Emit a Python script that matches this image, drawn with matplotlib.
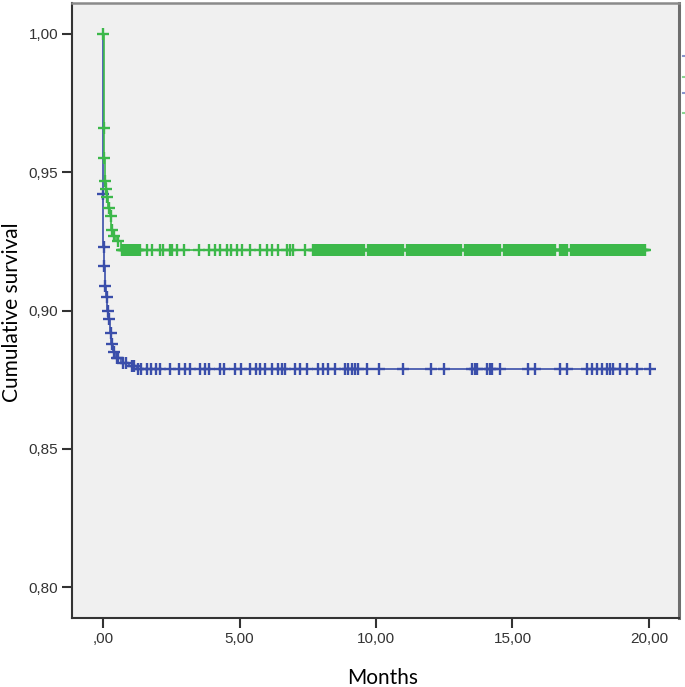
import matplotlib
matplotlib.use("Agg")
import matplotlib.pyplot as plt
from matplotlib.lines import Line2D
import numpy as np

plt.rcParams["font.family"] = ["Liberation Sans", "DejaVu Sans"]

# Kaplan-Meier steps (time in months, survival after each drop)
green_time = [0.00, 0.02, 0.04, 0.06, 0.10, 0.14, 0.19, 0.25, 0.31, 0.37, 0.48, 0.65]
green_surv = [1.000, 0.966, 0.955, 0.947, 0.944, 0.941, 0.937, 0.934, 0.929, 0.927, 0.925, 0.922]
green_end = 19.85

blue_time = [0.00, 0.005, 0.015, 0.03, 0.06, 0.12, 0.16, 0.20, 0.26, 0.31, 0.35, 0.45, 0.65, 0.95, 1.25]
blue_surv = [1.000, 0.942, 0.923, 0.916, 0.909, 0.905, 0.900, 0.897, 0.892, 0.888, 0.885, 0.883, 0.881, 0.880, 0.879]
blue_end = 20.04

# censored observations (months)
green_censor = [
    0.00, 0.03, 0.05, 0.08, 0.12, 0.16, 0.21, 0.28, 0.34, 0.42, 0.55, 0.70,
    0.74, 0.78, 0.82, 0.85, 0.89, 0.92, 0.95, 0.98, 1.02, 1.05, 1.09, 1.12,
    1.16, 1.20, 1.24, 1.27, 1.31, 1.34,
    1.60, 1.80, 2.10, 2.20, 2.45, 2.52, 2.70, 2.95, 3.50, 3.90, 4.10, 4.30,
    4.55, 4.70, 4.90, 5.10, 5.40, 5.75, 6.00, 6.20, 6.40, 6.75, 6.85, 6.95, 7.40,
    7.70, 7.74, 7.78, 7.82, 7.86, 7.90, 7.95, 7.99, 8.03, 8.07, 8.12, 8.16,
    8.20, 8.24, 8.28, 8.33, 8.37, 8.41, 8.45, 8.50, 8.54, 8.58, 8.62, 8.67,
    8.71, 8.75, 8.80, 8.84, 8.88, 8.92, 8.97, 9.01, 9.05, 9.10, 9.14, 9.18,
    9.22, 9.27, 9.31, 9.35, 9.40, 9.44, 9.48, 9.52, 9.56,
    9.72, 9.76, 9.80, 9.85, 9.89, 9.93, 9.97, 10.02, 10.06, 10.10, 10.14,
    10.19, 10.23, 10.27, 10.31, 10.36, 10.40, 10.44, 10.48, 10.53, 10.57,
    10.61, 10.65, 10.70, 10.74, 10.78, 10.82, 10.87, 10.91, 10.95, 10.99,
    11.15, 11.19, 11.23, 11.28, 11.32, 11.36, 11.40, 11.45, 11.49, 11.53,
    11.57, 11.62, 11.66, 11.70, 11.74, 11.79, 11.83, 11.87, 11.91, 11.96,
    12.00, 12.04, 12.08, 12.13, 12.17, 12.21, 12.25, 12.30, 12.34, 12.38,
    12.42, 12.47, 12.51, 12.55, 12.59, 12.64, 12.68, 12.72, 12.76, 12.81,
    12.85, 12.89, 12.93, 12.98, 13.02, 13.06, 13.10,
    13.26, 13.30, 13.35, 13.39, 13.43, 13.48, 13.52, 13.56, 13.60, 13.65,
    13.69, 13.73, 13.77, 13.82, 13.86, 13.90, 13.94, 13.99, 14.03, 14.07,
    14.11, 14.16, 14.20, 14.24, 14.28, 14.33, 14.37, 14.41, 14.45, 14.50, 14.54,
    14.70, 14.74, 14.78, 14.83, 14.87, 14.91, 14.95, 15.00, 15.04, 15.08,
    15.12, 15.17, 15.21, 15.25, 15.29, 15.34, 15.38, 15.42, 15.46, 15.51,
    15.55, 15.59, 15.63, 15.68, 15.72, 15.76, 15.80, 15.85, 15.89, 15.93,
    15.97, 16.02, 16.06, 16.10, 16.14, 16.19, 16.23, 16.27, 16.31, 16.36,
    16.40, 16.44, 16.48, 16.53, 16.57,
    16.74, 16.78, 16.82, 16.87, 16.91, 16.95, 16.99,
    17.16, 17.20, 17.24, 17.29, 17.33, 17.37, 17.41, 17.46, 17.50, 17.54,
    17.58, 17.63, 17.67, 17.71, 17.75, 17.80, 17.84, 17.88, 17.92, 17.97,
    18.01, 18.05, 18.09, 18.14, 18.18, 18.22, 18.26, 18.31, 18.35, 18.39,
    18.43, 18.48, 18.52, 18.56, 18.60, 18.65, 18.69, 18.73, 18.77, 18.82,
    18.86, 18.90, 18.94, 18.99, 19.03, 19.07, 19.11, 19.16, 19.20, 19.24,
    19.28, 19.33, 19.37, 19.41, 19.45, 19.50, 19.54, 19.58, 19.62, 19.67,
    19.71, 19.75, 19.79, 19.83, 19.85,
]
blue_censor = [
    0.01, 0.02, 0.04, 0.08, 0.14, 0.18, 0.23, 0.28, 0.33, 0.40, 0.50, 0.55,
    0.75, 0.85, 1.05, 1.15, 1.30, 1.40, 1.60, 1.75, 1.95, 2.10, 2.45, 2.80,
    3.00, 3.20, 3.55, 3.75, 3.90, 4.30, 4.45, 4.85, 5.05, 5.40, 5.60, 5.75,
    5.95, 6.20, 6.40, 6.56, 6.67, 7.03, 7.22, 7.47, 7.88, 8.06, 8.24, 8.50,
    8.86, 8.97, 9.12, 9.23, 9.34, 9.67, 10.11, 10.99, 12.01, 12.49, 13.52,
    13.63, 13.70, 14.07, 14.18, 14.25, 14.54, 15.57, 15.82, 16.74, 17.00,
    17.73, 17.91, 18.10, 18.28, 18.46, 18.57, 18.68, 18.94, 19.19, 19.56, 20.04,
]

x_ticks = [0, 5, 10, 15, 20]
x_labels = [",00", "5,00", "10,00", "15,00", "20,00"]
y_ticks = [0.80, 0.85, 0.90, 0.95, 1.00]
y_labels = ["0,80", "0,85", "0,90", "0,95", "1,00"]

GREEN = "#3cb84a"
BLUE = "#3a4eaa"


def surv_at(times, surv, t):
    idx = np.searchsorted(times, t, side="right") - 1
    return np.array(surv)[idx]


fig = plt.figure(figsize=(6.85, 6.87), dpi=100)
ax = fig.add_axes([72 / 685, 1 - 618 / 687, 607 / 685, 615 / 687])
ax.set_facecolor("#f0f0f0")

for times, surv, end, cens, col, z in [
    (blue_time, blue_surv, blue_end, blue_censor, BLUE, 2),
    (green_time, green_surv, green_end, green_censor, GREEN, 3),
]:
    ax.step(times + [end], surv + [surv[-1]], where="post", color=col, lw=1.2, zorder=z)
    ax.plot(cens, surv_at(times, surv, cens), ls="none", marker="+",
            ms=8, mew=1.7, color=col, zorder=z)

ax.set_xlim(-1.136, 21.1)
ax.set_ylim(0.7888, 1.0112)
ax.set_xticks(x_ticks)
ax.set_xticklabels(x_labels)
ax.set_yticks(y_ticks)
ax.set_yticklabels(y_labels)
ax.tick_params(direction="out", length=7, width=1.5, color="#333333",
               labelsize=11, labelcolor="#333333", pad=3)

ax.spines["left"].set_color("#333333")
ax.spines["bottom"].set_color("#333333")
ax.spines["left"].set_linewidth(1.5)
ax.spines["bottom"].set_linewidth(1.5)
ax.spines["top"].set_color("#8a8a8a")
ax.spines["top"].set_linewidth(1.8)
ax.spines["right"].set_color("#6e6e6e")
ax.spines["right"].set_linewidth(2.2)

fig.text(12 / 685, 1 - 312 / 687, "Cumulative survival", rotation=90,
         ha="center", va="center", fontsize=15, family="Lato", color="black")
fig.text(383 / 685, 1 - 678 / 687, "Months", ha="center", va="center",
         fontsize=15, family="Lato", color="black")

# clipped legend entries at the right edge
for yy, col in [(56, BLUE), (77, GREEN), (93, BLUE), (113, GREEN)]:
    fig.add_artist(Line2D([683 / 685, 686 / 685], [1 - yy / 687] * 2,
                          color=col, lw=1.5, alpha=0.6))

fig.savefig("out.png", dpi=100)
